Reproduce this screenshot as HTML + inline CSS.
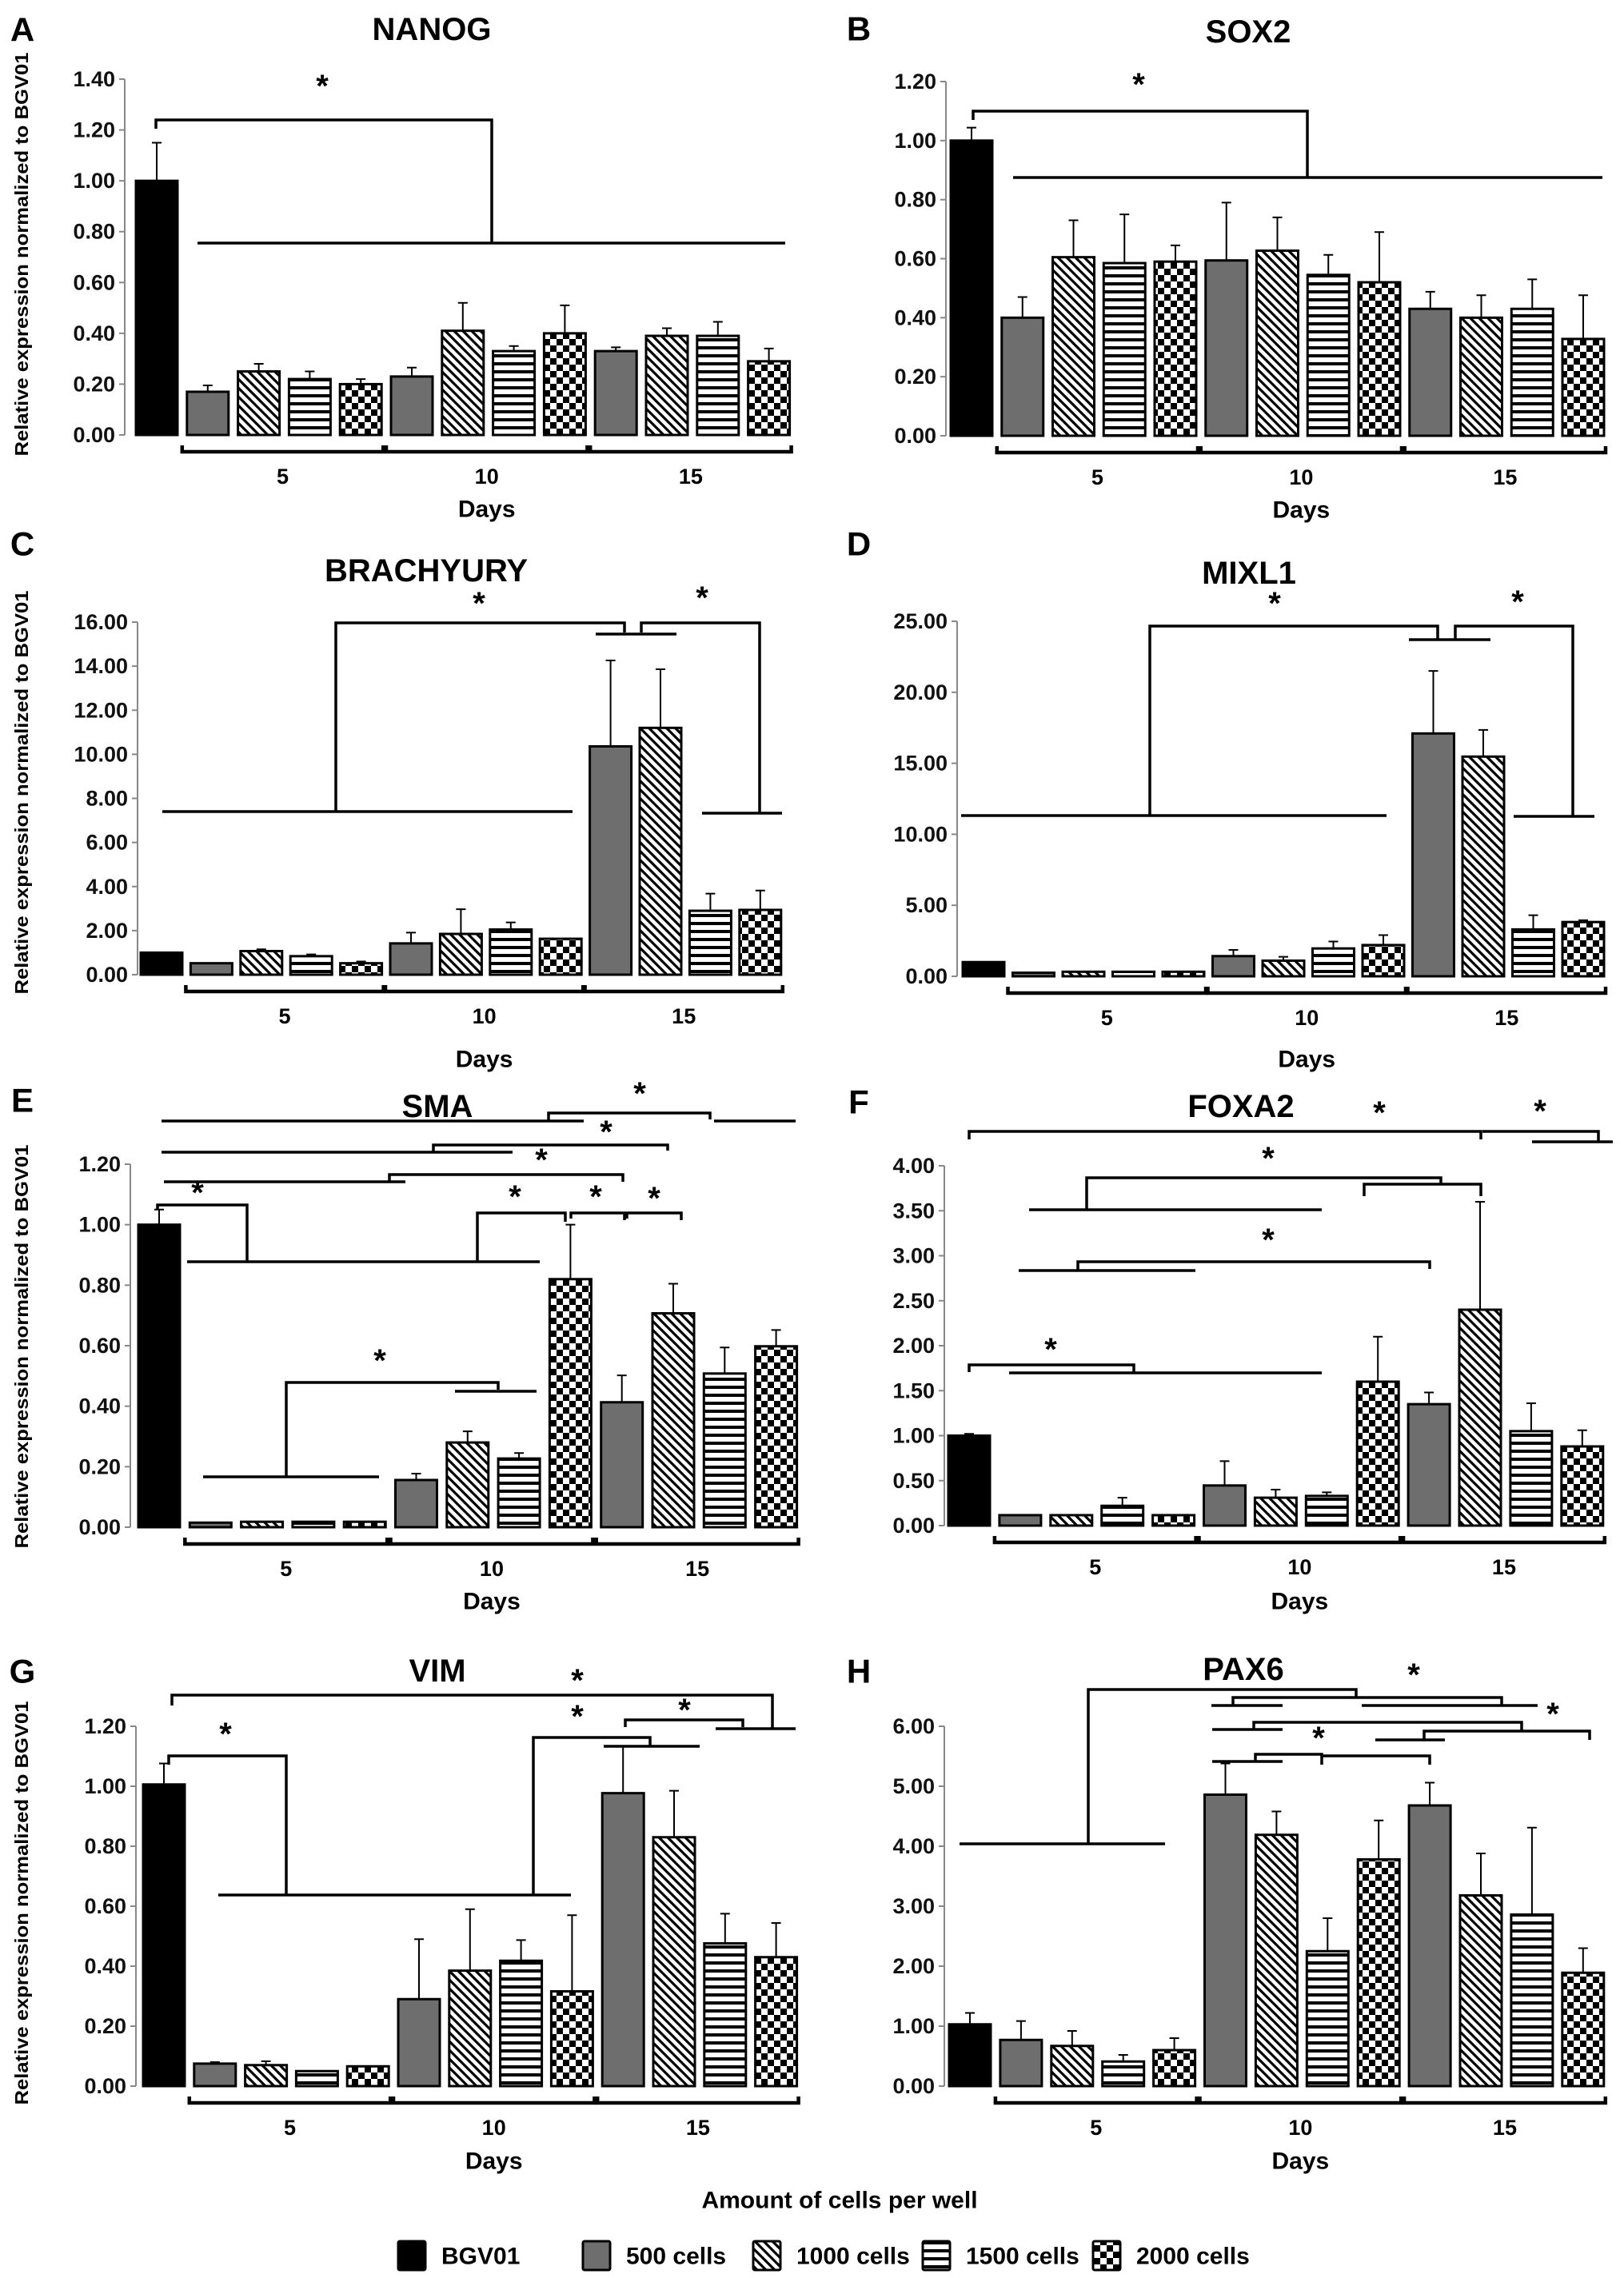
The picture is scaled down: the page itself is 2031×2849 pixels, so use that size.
<!DOCTYPE html>
<html>
<head>
<meta charset="utf-8">
<style>
html,body{margin:0;padding:0;background:#fff;}
svg{display:block;font-family:"Liberation Sans",sans-serif;}
</style>
</head>
<body>
<svg id="fig" width="2031" height="2849" viewBox="0 0 2031 2849" xmlns="http://www.w3.org/2000/svg">
<defs>
<pattern id="diag" patternUnits="userSpaceOnUse" width="11" height="11">
<rect width="11" height="11" fill="#fff"/>
<path d="M-3,-3 L14,14 M-3,8 L3,14 M8,-3 L14,3" stroke="#000" stroke-width="3.2"/>
</pattern>
<pattern id="horiz" patternUnits="userSpaceOnUse" width="10" height="10">
<rect width="10" height="10" fill="#fff"/>
<rect y="3" width="10" height="4" fill="#000"/>
</pattern>
<pattern id="check" patternUnits="userSpaceOnUse" width="16" height="16">
<rect width="16" height="16" fill="#fff"/>
<rect width="8" height="8" fill="#000"/>
<rect x="8" y="8" width="8" height="8" fill="#000"/>
</pattern>
</defs>
</svg>
<script>
const seriesNames = ['BGV01','500 cells','1000 cells','1500 cells','2000 cells'];
const dayLabels = ['5','10','15'];

const nanogValues = [1.00,0.17,0.25,0.22,0.20,0.23,0.41,0.33,0.40,0.33,0.39,0.39,0.29];
const nanogUpper  = [1.15,0.195,0.28,0.25,0.22,0.265,0.52,0.35,0.51,0.345,0.42,0.445,0.34];
const nanogTicks  = [0,0.2,0.4,0.6,0.8,1.0,1.2,1.4];

const sox2Values = [1.00,0.40,0.605,0.585,0.59,0.594,0.627,0.545,0.52,0.43,0.40,0.43,0.328];
const sox2Upper  = [1.044,0.47,0.73,0.75,0.645,0.79,0.74,0.613,0.69,0.488,0.476,0.53,0.476];
const sox2Ticks  = [0,0.2,0.4,0.6,0.8,1.0,1.2];

const brachValues = [1.0,0.52,1.07,0.84,0.52,1.42,1.85,2.05,1.63,10.36,11.2,2.9,2.94];
const brachUpper  = [1.0,0.57,1.15,0.92,0.6,1.91,2.97,2.37,1.63,14.26,13.86,3.68,3.82];
const brachTicks  = [0,2,4,6,8,10,12,14,16];

const mixl1Values = [1.0,0.25,0.32,0.32,0.32,1.42,1.1,1.96,2.2,17.1,15.47,3.3,3.82];
const mixl1Upper  = [1.0,0.25,0.38,0.32,0.32,1.86,1.37,2.45,2.9,21.5,17.35,4.3,3.95];
const mixl1Ticks  = [0,5,10,15,20,25];

const smaValues = [1.0,0.015,0.018,0.018,0.018,0.156,0.28,0.227,0.82,0.413,0.707,0.508,0.598];
const smaUpper  = [1.05,0.015,0.018,0.018,0.018,0.177,0.317,0.245,1.0,0.502,0.805,0.594,0.652];
const smaTicks  = [0,0.2,0.4,0.6,0.8,1.0,1.2];

const foxa2Values = [1.0,0.116,0.116,0.22,0.116,0.446,0.31,0.33,1.6,1.35,2.4,1.05,0.88];
const foxa2Upper  = [1.02,0.13,0.13,0.31,0.13,0.717,0.4,0.37,2.1,1.48,3.6,1.36,1.06];
const foxa2Ticks  = [0,0.5,1.0,1.5,2.0,2.5,3.0,3.5,4.0];

const vimValues = [1.006,0.075,0.07,0.05,0.066,0.29,0.385,0.418,0.316,0.977,0.83,0.476,0.43];
const vimUpper  = [1.076,0.08,0.083,0.05,0.07,0.49,0.59,0.487,0.57,1.134,0.985,0.575,0.544];
const vimTicks  = [0,0.2,0.4,0.6,0.8,1.0,1.2];

const pax6Values = [1.03,0.77,0.67,0.41,0.6,4.86,4.19,2.25,3.78,4.68,3.18,2.86,1.89];
const pax6Upper  = [1.22,1.085,0.92,0.52,0.8,5.38,4.58,2.8,4.43,5.06,3.88,4.31,2.3];
const pax6Ticks  = [0,1,2,3,4,5,6];

const NS = 'http://www.w3.org/2000/svg';
const svg = document.getElementById('fig');
function mk(tag, attrs, parent){
  const e = document.createElementNS(NS, tag);
  for (const k in attrs) e.setAttribute(k, attrs[k]);
  (parent||svg).appendChild(e);
  return e;
}

const panels = [
 {key:'nanog',letter:'A',title:'NANOG',vals:nanogValues,up:nanogUpper,ticks:nanogTicks,axisX:156,x0:170,p:63.8,zeroY:544,topY:99,lx:28,ly:37,tx:540,ty:37,daysY:637,ylab:318,
  ann:['M195 161 V150 H615 V304','M247 304 H982'],stars:[[403,107]]},
 {key:'sox2',letter:'B',title:'SOX2',vals:sox2Values,up:sox2Upper,ticks:sox2Ticks,axisX:1183,x0:1189,p:63.75,zeroY:545,topY:102,lx:1074,ly:36,tx:1561,ty:40,daysY:638,
  ann:['M1217 150 V139 H1635 V222','M1267 222 H2004'],stars:[[1424,105]]},
 {key:'brachyury',letter:'C',title:'BRACHYURY',vals:brachValues,up:brachUpper,ticks:brachTicks,axisX:172,x0:176,p:62.4,zeroY:1219,topY:778,lx:28,ly:680,tx:533,ty:714,daysY:1325,ylab:991,
  ann:['M203 1015 H716','M420 1015 V779 H781 V791','M745 793 H846','M802 791 V779 H950 V1017','M878 1017 H978'],stars:[[599,754],[878,747]]},
 {key:'mixl1',letter:'D',title:'MIXL1',vals:mixl1Values,up:mixl1Upper,ticks:mixl1Ticks,axisX:1197,x0:1204,p:62.5,zeroY:1221,topY:777,lx:1074,ly:680,tx:1562,ty:717,daysY:1325,
  ann:['M1202 1020 H1734','M1438 1020 V783 H1798 V799','M1762 800 H1864','M1820 799 V783 H1967 V1021','M1893 1021 H1994'],stars:[[1594,754],[1898,752]]},
 {key:'sma',letter:'E',title:'SMA',vals:smaValues,up:smaUpper,ticks:smaTicks,axisX:163,x0:173,p:64.3,zeroY:1910,topY:1456,lx:28,ly:1376,tx:547,ty:1384,daysY:2003,ylab:1684,
  ann:['M202 1402 H730','M686 1402 V1392 H888 V1400','M893 1402 H995',
       'M202 1441 H641','M542 1441 V1432 H835 V1439',
       'M205 1478 H507','M487 1478 V1469 H779 V1478',
       'M197 1513 V1507 H309 V1578','M234 1578 H675',
       'M597 1578 V1517 H707 V1528','M714 1524 V1517 H781 V1526','M784 1524 V1517 H852 V1526',
       'M254 1847 H474','M358 1847 V1729 H623 V1738','M569 1740 H671'],
  stars:[[800,1367],[758,1415],[677,1450],[247,1491],[644,1496],[745,1496],[818,1498],[475,1701]]},
 {key:'foxa2',letter:'F',title:'FOXA2',vals:foxa2Values,up:foxa2Upper,ticks:foxa2Ticks,axisX:1181,x0:1186,p:63.9,zeroY:1908,topY:1458,lx:1074,ly:1378,tx:1552,ty:1384,daysY:2003,
  ann:['M1212 1425 V1415 H1852 V1425','M1854 1415 H1999 V1427','M1916 1428 H2017',
       'M1287 1513 H1653','M1359 1513 V1473 H1802 V1482','M1706 1496 V1481 H1852 V1496',
       'M1274 1589 H1495','M1348 1589 V1578 H1788 V1587',
       'M1212 1716 V1707 H1418 V1717','M1262 1717 H1653'],
  stars:[[1725,1391],[1926,1389],[1586,1448],[1586,1550],[1314,1687]]},
 {key:'vim',letter:'G',title:'VIM',vals:vimValues,up:vimUpper,ticks:vimTicks,axisX:170,x0:179,p:63.8,zeroY:2609,topY:2159,lx:28,ly:2090,tx:547,ty:2090,daysY:2703,ylab:2380,
  ann:['M215 2133 V2120 H966 V2162','M895 2162 H995','M782 2160 V2151 H929 V2160',
       'M667 2370 V2173 H813 V2183','M755 2184 H875',
       'M211 2207 V2196 H358 V2370','M273 2370 H714'],
  stars:[[722,2101],[856,2138],[722,2146],[282,2168]]},
 {key:'pax6',letter:'H',title:'PAX6',vals:pax6Values,up:pax6Upper,ticks:pax6Ticks,axisX:1181,x0:1187,p:63.9,zeroY:2609,topY:2159,lx:1074,ly:2090,tx:1555,ty:2088,daysY:2703,
  ann:['M1200 2306 H1457','M1361 2306 V2113 H1696 V2122',
       'M1515 2133 H1604','M1542 2133 V2123 H1878 V2132','M1703 2133 H1923',
       'M1516 2163 H1604','M1568 2163 V2154 H1903 V2165',
       'M1720 2176 H1807','M1781 2176 V2165 H1988 V2176',
       'M1516 2203 H1604','M1570 2203 V2194 H1653 V2207','M1653 2196 H1788 V2207'],
  stars:[[1768,2094],[1942,2143],[1649,2173]]}
];

function fillFor(i){
  if (i===0) return '#000';
  const k=(i-1)%4;
  return ['#6e6e6e','url(#diag)','url(#horiz)','url(#check)'][k];
}
const BW = 52;

panels.forEach(P=>{
  const g = mk('g',{});
  
  
  const ymax = P.ticks[P.ticks.length-1];
  const Y = v => P.zeroY - v/ymax*(P.zeroY-P.topY);
  const X = i => P.x0 + i*P.p;

  // letter
  const lt = mk('text',{x:P.lx,y:P.ly,'font-size':42,'font-weight':'bold','text-anchor':'middle','dominant-baseline':'central'},g);
  lt.textContent = P.letter;
  
  
  // title
  const tt = mk('text',{x:P.tx,y:P.ty,'font-size':40,'font-weight':'bold','text-anchor':'middle','dominant-baseline':'central'},g);
  tt.textContent = P.title;
  
  

  // axis
  const ax = mk('line',{x1:P.axisX,y1:P.topY,x2:P.axisX,y2:P.zeroY,stroke:'#888','stroke-width':2},g);
  
  
  P.ticks.forEach(t=>{
    const yy = Y(t);
    const tk = mk('line',{x1:P.axisX-7,y1:yy,x2:P.axisX,y2:yy,stroke:'#888','stroke-width':2},g);
    
    
    const tl = mk('text',{x:P.axisX-12,y:yy,'font-size':27,'font-weight':'bold','text-anchor':'end','dominant-baseline':'central',fill:'#111'},g);
    tl.textContent = t.toFixed(2);
    
    
  });

  // y label
  if (P.ylab){
    const yl = mk('text',{x:0,y:0,'font-size':23,'font-weight':'bold','text-anchor':'middle',transform:'translate(35,'+P.ylab+') rotate(-90)',textLength:505,lengthAdjust:'spacingAndGlyphs'},g);
    yl.textContent = 'Relative expression normalized to BGV01';
    
    
  }

  // bars
  P.vals.forEach((v,i)=>{
    const x = X(i), yt = Y(v);
    const b = mk('rect',{x:x,y:yt,width:BW,height:Math.max(P.zeroY-yt,1),fill:fillFor(i),stroke:'#000','stroke-width':3},g);
    
    
    const u = P.up[i];
    if (u > v + ymax*0.004){
      const cx = x + BW/2, yu = Y(u);
      const e = mk('path',{d:'M'+cx+' '+yt+' V'+yu+' M'+(cx-6)+' '+yu+' H'+(cx+6),stroke:'#000','stroke-width':2,fill:'none'},g);
      
      
    }
  });

  // group brackets and day labels
  const by = P.zeroY + 21;
  dayLabels.forEach((d,k)=>{
    const x1 = X(1+4*k) - 6, x2 = X(4+4*k) + BW + 2;
    const br = mk('path',{d:'M'+x1+' '+(by-8)+' V'+by+' H'+x2+' V'+(by-8),stroke:'#000','stroke-width':4.5,fill:'none'},g);
    
    
    const dl = mk('text',{x:(x1+x2)/2,y:P.zeroY+52,'font-size':27,'font-weight':'bold','text-anchor':'middle','dominant-baseline':'central'},g);
    dl.textContent = d;
    
    
  });
  const dx = (X(1)-6 + X(12)+BW+2)/2;
  const dt = mk('text',{x:dx,y:P.daysY,'font-size':30,'font-weight':'bold','text-anchor':'middle','dominant-baseline':'central'},g);
  dt.textContent = 'Days';
  
  

  // significance annotations
  P.ann.forEach(d=>{
    const a = mk('path',{d:d,stroke:'#000','stroke-width':3.5,fill:'none'},g);
    
    
  });
  P.stars.forEach(s=>{
    const st = mk('text',{x:s[0],y:s[1]+14,'font-size':40,'font-weight':'bold','text-anchor':'middle'},g);
    st.textContent = '*';
    
    
  });
});

// footer
const ft = mk('text',{x:1050,y:2752,'font-size':30,'font-weight':'bold','text-anchor':'middle','dominant-baseline':'central'});
ft.textContent = 'Amount of cells per well';



const legX = [498,729,942,1154,1367];
seriesNames.forEach((n,i)=>{
  const lg = mk('g',{});
  
  
  const fill = i===0 ? '#000' : ['#6e6e6e','url(#diag)','url(#horiz)','url(#check)'][i-1];
  const sw = mk('rect',{x:legX[i],y:2803,width:34,height:36,fill:fill,stroke:'#000','stroke-width':3,rx:2},lg);
  
  
  const tx = mk('text',{x:legX[i]+54,y:2822,'font-size':30,'font-weight':'bold','dominant-baseline':'central'},lg);
  tx.textContent = n;
  
  
});
</script>
</body>
</html>
